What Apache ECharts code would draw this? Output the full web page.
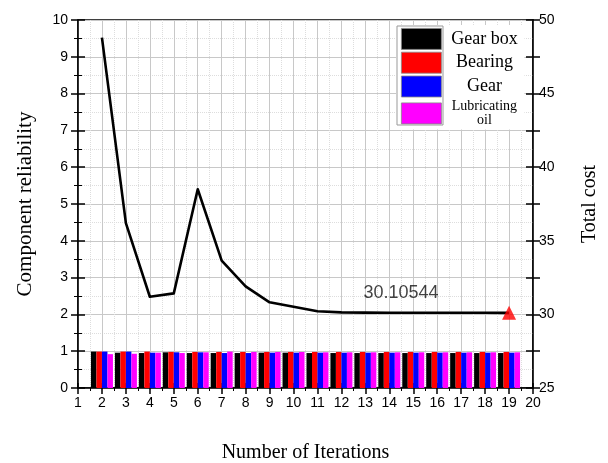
<!DOCTYPE html>
<html><head><meta charset="utf-8">
<script src="https://cdn.jsdelivr.net/npm/echarts@6/dist/echarts.min.js"></script>
<style>html,body{margin:0;padding:0;background:#fff}#c{width:608px;height:463px}</style>
</head><body><div id="c"></div>
<script>
var iterations = [2,3,4,5,6,7,8,9,10,11,12,13,14,15,16,17,18,19];
var totalCost = [48.8,36.2,31.2,31.43,38.5,33.65,31.9,30.82,30.52,30.21,30.14,30.12,30.11,30.11,30.11,30.11,30.11,30.10544];
var gearBox = [0.99,0.96,0.95,0.97,0.95,0.95,0.95,0.96,0.96,0.95,0.95,0.95,0.95,0.95,0.95,0.95,0.95,0.95];
var bearing = [0.99,0.99,0.99,0.98,0.98,0.98,0.98,0.98,0.98,0.98,0.98,0.98,0.98,0.98,0.98,0.98,0.98,0.98];
var gear = [0.99,0.99,0.96,0.97,0.97,0.95,0.95,0.96,0.96,0.96,0.96,0.96,0.96,0.96,0.96,0.96,0.96,0.96];
var lubOil = [0.92,0.93,0.96,0.95,0.97,0.99,0.98,0.98,0.98,0.97,0.97,0.97,0.97,0.97,0.97,0.97,0.97,0.97];
var finalLabel = '30.10544';
var seriesNames = ['Gear box','Bearing','Gear','Lubricating oil'];
var seriesColors = ['#000000','#ff0000','#0000ff','#ff00ff'];
var xAxisName = 'Number of Iterations';
var yLeftName = 'Component reliability';
var yRightName = 'Total cost';

var barSets = [gearBox, bearing, gear, lubOil];
var sans = 'Liberation Sans, Arial, sans-serif';
var serif = 'Liberation Serif, Times New Roman, serif';

function pairs(vals){ return iterations.map(function(x,i){ return [x, vals[i]]; }); }

var series = barSets.map(function(vals, k){
  return {
    name: seriesNames[k], type: 'bar', xAxisIndex: 0, yAxisIndex: 0,
    data: pairs(vals), barWidth: 5.5, barGap: '0%',
    itemStyle: { color: seriesColors[k] }, z: 3
  };
});
series.push({
  name: 'Total cost', type: 'line', xAxisIndex: 0, yAxisIndex: 2,
  data: pairs(totalCost), symbol: 'none', smooth: false,
  lineStyle: { color: '#000', width: 2.6, join: 'round' }, z: 4
});
series.push({
  name: 'final', type: 'scatter', xAxisIndex: 0, yAxisIndex: 2,
  data: [[iterations[iterations.length-1], totalCost[totalCost.length-1]]],
  symbol: 'triangle', symbolSize: 14, itemStyle: { color: '#ff0000' }, z: 5,
  label: { show: true, formatter: finalLabel, position: 'top', offset: [-108, 1],
    color: '#111', fontFamily: sans, fontSize: 18 }
});

var legendText = {
  'Gear box': '{a|Gear box}',
  'Bearing': '{a|Bearing}',
  'Gear': '{a|Gear}',
  'Lubricating oil': '{b|Lubricating}\n{b|oil}'
};

var chart = echarts.init(document.getElementById('c'), null, { renderer: 'canvas' });
chart.setOption({
  backgroundColor: '#fff',
  animation: false,
  grid: { left: 78, right: 75, top: 20, bottom: 75, containLabel: false, outerBoundsMode: 'none',
    show: true, borderColor: '#000', borderWidth: 1.5, backgroundColor: 'transparent' },
  legend: {
    data: seriesNames, orient: 'vertical', left: 396, top: 25,
    itemWidth: 40, itemHeight: 21, itemGap: 2, icon: 'rect',
    backgroundColor: '#fff', padding: [3, 2, 2, 5], itemStyle: { borderColor: '#888', borderWidth: 0.8 },
    formatter: function(n){ return legendText[n]; },
    textStyle: { rich: {
      a: { fontFamily: serif, fontSize: 18, color: '#000', width: 76, align: 'center' },
      b: { fontFamily: serif, fontSize: 14, color: '#000', width: 76, align: 'center', lineHeight: 14 }
    } }
  },
  graphic: [{ type: 'rect', shape: { x: 397, y: 26, width: 46, height: 99 }, style: { fill: 'none', stroke: '#999', lineWidth: 1 }, z: 100 }],
  xAxis: [{
    type: 'value', min: 1, max: 20, interval: 1, position: 'bottom',
    name: xAxisName, nameLocation: 'middle', nameGap: 55,
    nameTextStyle: { fontFamily: serif, fontSize: 20, color: '#000' },
    axisLine: { show: true, onZero: false, lineStyle: { color: '#000', width: 1.5 } },
    axisTick: { show: true, length: 6, lineStyle: { color: '#000', width: 1.5 } },
    minorTick: { show: true, splitNumber: 2, length: 3, lineStyle: { color: '#000' } },
    axisLabel: { fontFamily: sans, fontSize: 14, color: '#000', margin: 8 },
    splitLine: { show: true, lineStyle: { color: '#c8c8c8', width: 1 } },
    minorSplitLine: { show: true, lineStyle: { color: '#ddd', type: 'dotted' } }
  }, {
    type: 'value', min: 1, max: 20, interval: 1, position: 'bottom',
    axisLine: { show: false, onZero: false },
    axisTick: { show: true, inside: true, length: 5, lineStyle: { color: '#000', width: 1.5 } },
    axisLabel: { show: false }, splitLine: { show: false }
  }],
  yAxis: [{
    type: 'value', min: 0, max: 10, interval: 1, position: 'left',
    name: yLeftName, nameLocation: 'middle', nameGap: 42, nameRotate: 90,
    nameTextStyle: { fontFamily: serif, fontSize: 21, color: '#000' },
    axisLine: { show: true, onZero: false, lineStyle: { color: '#000', width: 1.5 } },
    axisTick: { show: true, length: 7, lineStyle: { color: '#000', width: 1.5 } },
    minorTick: { show: true, splitNumber: 2, length: 4, lineStyle: { color: '#000' } },
    axisLabel: { fontFamily: sans, fontSize: 14, color: '#000', margin: 10 },
    splitLine: { show: true, lineStyle: { color: '#c8c8c8', width: 1 } },
    minorSplitLine: { show: true, lineStyle: { color: '#ddd', type: 'dotted' } }
  }, {
    type: 'value', min: 0, max: 10, interval: 1, position: 'left',
    axisLine: { show: false, onZero: false },
    axisTick: { show: true, inside: true, length: 7, lineStyle: { color: '#000', width: 1.5 } },
    minorTick: { show: true, splitNumber: 2, length: 4, lineStyle: { color: '#000' } },
    axisLabel: { show: false }, splitLine: { show: false }
  }, {
    type: 'value', min: 25, max: 50, interval: 5, position: 'right',
    name: yRightName, nameLocation: 'middle', nameGap: 47, nameRotate: 90,
    nameTextStyle: { fontFamily: serif, fontSize: 20, color: '#000' },
    axisLine: { show: true, onZero: false, lineStyle: { color: '#000', width: 1.5 } },
    axisTick: { show: true, length: 7, lineStyle: { color: '#000', width: 1.5 } },
    minorTick: { show: true, splitNumber: 2, length: 7, lineStyle: { color: '#000', width: 1.5 } },
    axisLabel: { fontFamily: sans, fontSize: 14, color: '#000', margin: 6 },
    splitLine: { show: false }
  }, {
    type: 'value', min: 25, max: 50, interval: 5, position: 'right',
    axisLine: { show: false, onZero: false },
    axisTick: { show: true, inside: true, length: 7, lineStyle: { color: '#000', width: 1.5 } },
    minorTick: { show: true, splitNumber: 2, length: 7, lineStyle: { color: '#000', width: 1.5 } },
    axisLabel: { show: false }, splitLine: { show: false }
  }],
  series: series
});
</script></body></html>
